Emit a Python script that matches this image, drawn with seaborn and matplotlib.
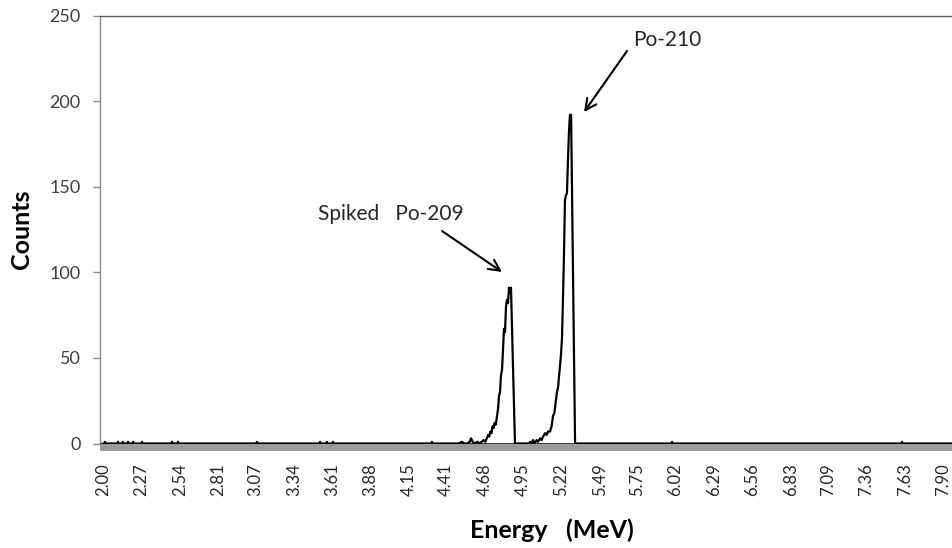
import matplotlib
matplotlib.use("Agg")
import matplotlib.pyplot as plt
import seaborn as sns
import pandas as pd

# ---- data ----
energy_mev = [
    2.000, 2.011, 2.014, 2.017, 2.102, 2.105, 2.108, 2.137, 2.140, 2.143,
    2.173, 2.176, 2.179, 2.208, 2.211, 2.214, 2.271, 2.274, 2.277,
    2.482, 2.485, 2.488, 2.524, 2.527, 2.530, 3.078, 3.081, 3.084,
    3.521, 3.524, 3.527, 3.570, 3.573, 3.576, 3.612, 3.615, 3.618,
    4.307, 4.310, 4.313,
    # Po-209 peak
    4.500, 4.520, 4.535, 4.560, 4.575, 4.585, 4.595, 4.610, 4.630, 4.645,
    4.660, 4.672, 4.685, 4.695, 4.704, 4.712, 4.720, 4.728, 4.735, 4.742,
    4.750, 4.758, 4.767, 4.774, 4.781, 4.788, 4.795, 4.802, 4.809, 4.816,
    4.823, 4.830, 4.837, 4.844, 4.851, 4.858, 4.865, 4.893,
    # Po-210 peak
    4.990, 5.000, 5.010, 5.020, 5.030, 5.045, 5.055, 5.069, 5.080, 5.090,
    5.104, 5.115, 5.125, 5.139, 5.150, 5.160, 5.170, 5.180, 5.188, 5.196,
    5.203, 5.209, 5.216, 5.223, 5.230, 5.237, 5.244, 5.251, 5.258, 5.265,
    5.272, 5.279, 5.287, 5.315,
    5.993, 5.996, 5.999, 7.608, 7.611, 7.614, 8.330,
]
counts = [
    0, 0, 1, 0, 0, 1, 0, 0, 1, 0,
    0, 1, 0, 0, 1, 0, 0, 1, 0,
    0, 1, 0, 0, 1, 0, 0, 1, 0,
    0, 1, 0, 0, 1, 0, 0, 1, 0,
    0, 1, 0,
    0, 1, 0, 0, 1, 3, 1, 0, 1, 0,
    1, 2, 1, 3, 5, 4, 7, 6, 10, 9,
    12, 11, 16, 20, 28, 30, 40, 43, 55, 67,
    65, 80, 84, 82, 91, 88, 91, 0,
    0, 1, 0, 2, 0, 2, 1, 3, 2, 4,
    6, 5, 7, 7, 10, 16, 18, 25, 30, 33,
    40, 45, 52, 61, 84, 110, 142, 145, 146, 165,
    182, 192, 192, 0,
    0, 1, 0, 0, 1, 0, 0,
]
tick_values = [2.00, 2.27, 2.54, 2.81, 3.07, 3.34, 3.61, 3.88, 4.15, 4.41,
               4.68, 4.95, 5.22, 5.49, 5.75, 6.02, 6.29, 6.56, 6.83, 7.09,
               7.36, 7.63, 7.90]
tick_labels = ["2.00", "2.27", "2.54", "2.81", "3.07", "3.34", "3.61", "3.88",
               "4.15", "4.41", "4.68", "4.95", "5.22", "5.49", "5.75", "6.02",
               "6.29", "6.56", "6.83", "7.09", "7.36", "7.63", "7.90"]
y_ticks = [0, 50, 100, 150, 200, 250]

df = pd.DataFrame({"Energy": energy_mev, "Counts": counts})

sns.set_theme(style="white")
plt.rcParams["font.family"] = ["Lato", "DejaVu Sans"]

fig = plt.figure(figsize=(9.52, 5.48), dpi=100)
ax = fig.add_axes([100 / 952, 104.5 / 548, 904 / 952, 428 / 548])

sns.lineplot(data=df, x="Energy", y="Counts", ax=ax, color="black",
             linewidth=1.6, estimator=None, sort=False)

ax.set_xlim(1.979, 8.327)
ax.set_ylim(0, 250)

# grey floor band under the zero line
ax.axhspan(-4.1, 0, color="#9a9a9a", clip_on=False, zorder=1, lw=0)
ax.axhline(0, color="black", lw=1.8, zorder=3)

ax.set_xticks(tick_values)
ax.set_xticklabels(tick_labels, rotation=90, fontsize=12, color="#262626")
ax.tick_params(axis="x", length=0, pad=14)
ax.set_yticks(y_ticks)
ax.set_yticklabels([str(v) for v in y_ticks], fontsize=13, color="#404040")
ax.tick_params(axis="y", length=5, width=1, color="#8c8c8c", pad=9, left=True,
               direction="out")

for s in ["right", "bottom"]:
    ax.spines[s].set_visible(False)
ax.spines["left"].set_color("#8c8c8c")
ax.spines["left"].set_linewidth(1)
ax.spines["top"].set_color("#595959")
ax.spines["top"].set_linewidth(1)

ax.set_xlabel("Energy   (MeV)", fontsize=18, fontweight="bold", color="black")
ax.set_ylabel("Counts", fontsize=18, fontweight="bold", color="black")
ax.xaxis.set_label_coords(0.5, -0.176)
ax.yaxis.set_label_coords(-0.074, 0.5)

arrow = dict(arrowstyle="->", color="black", lw=1.5, mutation_scale=20,
             shrinkA=0, shrinkB=0)
ax.text(5.722, 235.7, "Po-210", fontsize=15, color="#262626",
        ha="left", va="center")
ax.annotate("", xy=(5.378, 193.6), xytext=(5.680, 229.3), arrowprops=arrow)
ax.text(3.510, 134.0, "Spiked   Po-209", fontsize=15, color="#262626",
        ha="left", va="center")
ax.annotate("", xy=(4.802, 100.2), xytext=(4.381, 124.1), arrowprops=arrow)

fig.savefig("out.png", dpi=100)
